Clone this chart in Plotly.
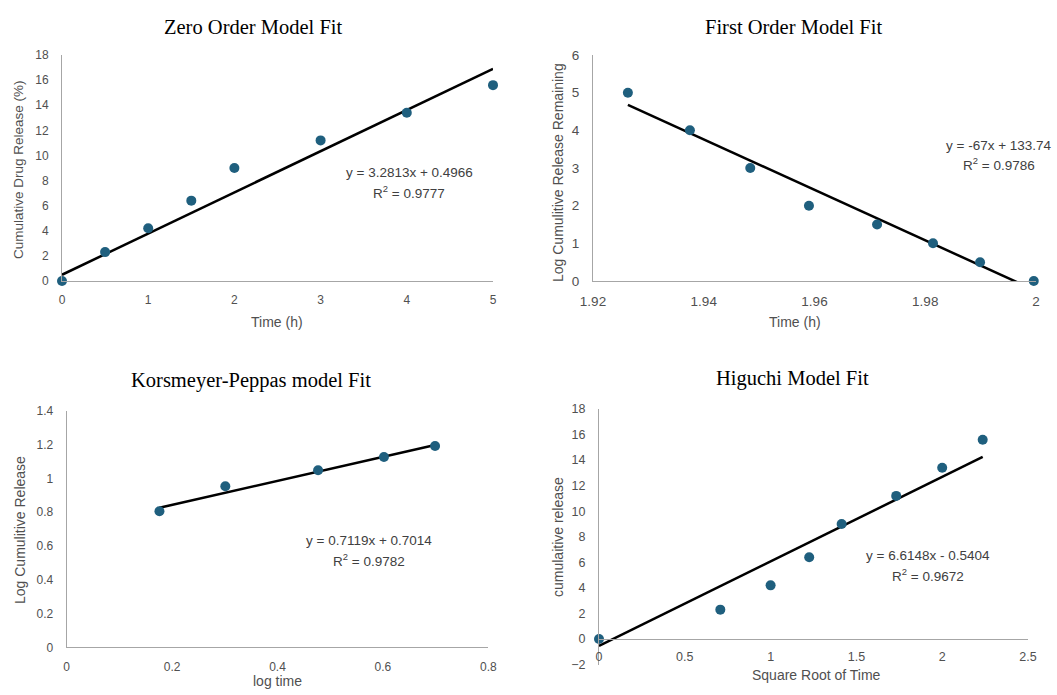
import plotly.graph_objects as go

W, H = 1057, 695

# ---------------- data ----------------
time_h = [0, 0.5, 1, 1.5, 2, 3, 4, 5]
release = [0.0, 2.3, 4.2, 6.4, 9.0, 11.2, 13.4, 15.6]
zero_slope, zero_int = 3.2813, 0.4966

first_x = [1.9263, 1.9375, 1.9484, 1.9590, 1.9713, 1.9814, 1.9899, 1.9996]
first_y = [5, 4, 3, 2, 1.5, 1, 0.5, 0]
first_slope, first_int = -67, 133.74

kp_x = [0.176, 0.301, 0.477, 0.602, 0.699]
kp_y = [0.806, 0.954, 1.049, 1.127, 1.193]
kp_slope, kp_int = 0.7119, 0.7014

sqrt_t = [0, 0.707, 1, 1.225, 1.414, 1.732, 2, 2.236]
hig_y = [0.0, 2.3, 4.2, 6.4, 9.0, 11.2, 13.4, 15.6]
hig_slope, hig_int = 6.6148, -0.5404

titles = ["Zero Order Model Fit", "First Order Model Fit",
          "Korsmeyer-Peppas model Fit", "Higuchi Model Fit"]
eqs = ["y = 3.2813x + 0.4966", "y = -67x + 133.74",
       "y = 0.7119x + 0.7014", "y = 6.6148x - 0.5404"]
r2s = ["0.9777", "0.9786", "0.9782", "0.9672"]
xtitles = ["Time (h)", "Time (h)", "log time", "Square Root of Time"]
ytitles = ["Cumulative Drug Release (%)", "Log Cumulitive Release Remaining",
           "Log Cumulitive Release", "cumulaitive release"]

# ---------------- style ----------------
MARK = "#1f5f7e"
AXC = "#a6a6a6"
TICKC = "#505050"
TXTC = "#404040"
SANS = "Liberation Sans, Arial, sans-serif"
SERIF = "Liberation Serif, Times New Roman, serif"
tick_sizes = [12, 13.5, 12, 12.5]
ytitle_sizes = [13.5, 14, 14, 14]


def px(x):
    return x / W


def py(y):
    return 1 - y / H


fig = go.Figure()

sets = [
    (time_h, release, zero_slope, zero_int),
    (first_x, first_y, first_slope, first_int),
    (kp_x, kp_y, kp_slope, kp_int),
    (sqrt_t, hig_y, hig_slope, hig_int),
]
for i, (xs, ys, m, b) in enumerate(sets):
    xa = "x" if i == 0 else f"x{i+1}"
    ya = "y" if i == 0 else f"y{i+1}"
    lx = [min(xs), max(xs)]
    ly = [m * v + b for v in lx]
    fig.add_trace(go.Scatter(x=lx, y=ly, mode="lines", xaxis=xa, yaxis=ya,
                             line=dict(color="black", width=2.5),
                             showlegend=False, hoverinfo="skip"))
    fig.add_trace(go.Scatter(x=xs, y=ys, mode="markers", xaxis=xa, yaxis=ya,
                             marker=dict(color=MARK, size=10),
                             cliponaxis=False, showlegend=False))


def ax(i, standoff):
    return dict(showgrid=False, zeroline=False, showline=True, linecolor=AXC,
                linewidth=1, ticks="", automargin=False,
                tickfont=dict(family=SANS, size=tick_sizes[i], color=TICKC),
                ticklabelstandoff=standoff, fixedrange=True)


hig_ydom = [py(664.6), py(409)]
hig_xpos = hig_ydom[0] + (0 - (-2)) / 20 * (hig_ydom[1] - hig_ydom[0])

fig.update_layout(
    width=W, height=H, autosize=False,
    margin=dict(l=0, r=0, t=0, b=0, pad=0, autoexpand=False),
    paper_bgcolor="white", plot_bgcolor="white",
    xaxis=dict(domain=[px(62), px(493)], range=[0, 5], dtick=1, anchor="y", **ax(0, 8)),
    yaxis=dict(domain=[py(281), py(55)], range=[0, 18], dtick=2, anchor="x", **ax(0, 10)),
    xaxis2=dict(domain=[px(593), px(1036)], range=[1.92, 2.0], dtick=0.02, anchor="y2", **ax(1, 8)),
    yaxis2=dict(domain=[py(281), py(55)], range=[0, 6], dtick=1, anchor="x2", **ax(1, 10)),
    xaxis3=dict(domain=[px(66.7), px(488.3)], range=[0, 0.8], dtick=0.2, anchor="y3", **ax(2, 8)),
    yaxis3=dict(domain=[py(647.3), py(411)], range=[0, 1.4], dtick=0.2, anchor="x3", **ax(2, 10)),
    xaxis4=dict(domain=[px(599), px(1028)], range=[0, 2.5], dtick=0.5, anchor="free",
                position=hig_xpos, **ax(3, 6)),
    yaxis4=dict(domain=hig_ydom, range=[-2, 18], dtick=2, anchor="x4", **ax(3, 10)),
)

ann = []
title_pos = [(253, 27), (793, 27), (251, 380), (792, 378)]
for t, (x, y) in zip(titles, title_pos):
    ann.append(dict(text=t, x=px(x), y=py(y), xref="paper", yref="paper",
                    showarrow=False, xanchor="center", yanchor="middle",
                    font=dict(family=SERIF, size=20.5, color="black")))

eq_pos = [(409, 172.5, 192), (999, 145, 163.5), (369, 540, 559.5), (928, 555.5, 574.5)]
for e, r, (x, y1, y2) in zip(eqs, r2s, eq_pos):
    ann.append(dict(text=e, x=px(x), y=py(y1), xref="paper", yref="paper",
                    showarrow=False, xanchor="center", yanchor="middle",
                    font=dict(family=SANS, size=13.5, color=TXTC)))
    ann.append(dict(text="R<sup>2</sup> = " + r, x=px(x), y=py(y2), xref="paper", yref="paper",
                    showarrow=False, xanchor="center", yanchor="middle",
                    font=dict(family=SANS, size=13.5, color=TXTC)))

xt_pos = [(277, 322), (795, 322), (277, 681), (816, 675)]
for t, (x, y) in zip(xtitles, xt_pos):
    ann.append(dict(text=t, x=px(x), y=py(y), xref="paper", yref="paper",
                    showarrow=False, xanchor="center", yanchor="middle",
                    font=dict(family=SANS, size=14, color=TICKC)))

yt_pos = [(18, 170), (558, 173), (20, 530), (558, 537)]
for t, (x, y), s in zip(ytitles, yt_pos, ytitle_sizes):
    ann.append(dict(text=t, x=px(x), y=py(y), xref="paper", yref="paper",
                    showarrow=False, xanchor="center", yanchor="middle", textangle=-90,
                    font=dict(family=SANS, size=s, color=TICKC)))

fig.update_layout(annotations=ann)

fig.write_html("out.html")
